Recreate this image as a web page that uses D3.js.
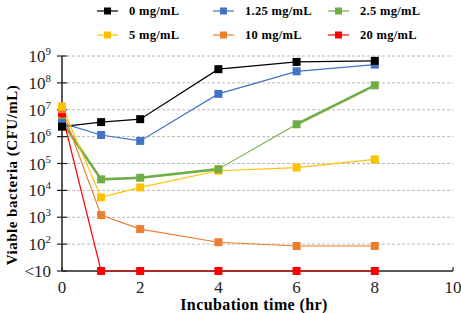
<!DOCTYPE html>
<html>
<head>
<meta charset="utf-8">
<script src="https://cdn.jsdelivr.net/npm/d3@7"></script>
<style>
  body { margin: 0; background: #fff; }
</style>
</head>
<body>
<div id="chart"></div>
<script>
// Data: log10 of viable bacteria (CFU/mL); 1 means "<10"
const times = [0, 1, 2, 4, 6, 8];
const doses = ['0 mg/mL', '1.25 mg/mL', '2.5 mg/mL', '5 mg/mL', '10 mg/mL', '20 mg/mL'];
const log_0    = [6.37, 6.54, 6.65, 8.51, 8.78, 8.82];
const log_125  = [6.50, 6.06, 5.84, 7.59, 8.43, 8.68];
const log_25   = [6.55, 4.41, 4.47, 4.79, 6.46, 7.91];
const log_5    = [7.12, 3.74, 4.11, 4.73, 4.85, 5.15];
const log_10   = [7.02, 3.08, 2.56, 2.07, 1.93, 1.93];
const log_20   = [6.86, 1, 1, 1, 1, 1];
const yTicks = [1, 2, 3, 4, 5, 6, 7, 8, 9];
const xTicks = [0, 2, 4, 6, 8, 10];

const colors = ['#000000', '#4472c4', '#70ad47', '#ffc000', '#ed7d31', '#ff0000'];
const seriesValues = [log_0, log_125, log_25, log_5, log_10, log_20];

const FONT = "'Liberation Serif', 'Times New Roman', Tinos, serif";
const width = 461, height = 313;
const margin = { top: 56, right: 8, bottom: 42, left: 62 };

const svg = d3.select('#chart').append('svg')
  .attr('width', width)
  .attr('height', height)
  .attr('viewBox', [0, 0, width, height])
  .style('display', 'block')
  .attr('font-family', FONT);

const x = d3.scaleLinear().domain([0, 10]).range([margin.left, width - margin.right]);
const y = d3.scaleLinear().domain([1, 9]).range([height - margin.bottom, margin.top]);

// ━━━ grid ━━━
svg.append('g')
  .selectAll('line')
  .data(yTicks.filter(d => d > 1))
  .join('line')
  .attr('x1', x(0)).attr('x2', x(10))
  .attr('y1', d => y(d)).attr('y2', d => y(d))
  .attr('stroke', '#a6a6a6')
  .attr('stroke-width', 0.8)
  .attr('stroke-dasharray', '3,2');

// ━━━ axes ━━━
const yAxis = svg.append('g').attr('transform', `translate(${x(0)},0)`);
yAxis.append('line')
  .attr('y1', y(1)).attr('y2', y(9))
  .attr('stroke', '#222').attr('stroke-width', 1.5);
yAxis.selectAll('line.tk')
  .data(yTicks)
  .join('line')
  .attr('class', 'tk')
  .attr('x1', -5).attr('x2', 5)
  .attr('y1', d => y(d)).attr('y2', d => y(d))
  .attr('stroke', '#222').attr('stroke-width', 1.2);

const yLab = yAxis.selectAll('text')
  .data(yTicks)
  .join('text')
  .attr('x', -11)
  .attr('y', d => y(d) + 6)
  .attr('text-anchor', 'end')
  .attr('font-family', FONT)
  .attr('font-size', 17)
  .attr('fill', '#222');
yLab.filter(d => d === 1).text('<10');
yLab.filter(d => d > 1).each(function(d) {
  const t = d3.select(this);
  t.append('tspan').text('10');
  t.append('tspan').attr('font-size', 11).attr('dy', -7).text(d);
});

const xAxis = svg.append('g').attr('transform', `translate(0,${y(1)})`);
xAxis.append('line')
  .attr('x1', x(0)).attr('x2', x(10))
  .attr('stroke', '#222').attr('stroke-width', 1.5);
xAxis.selectAll('line.tk')
  .data(xTicks)
  .join('line')
  .attr('class', 'tk')
  .attr('x1', d => x(d)).attr('x2', d => x(d))
  .attr('y1', -4).attr('y2', 0)
  .attr('stroke', '#222').attr('stroke-width', 1.2);
xAxis.selectAll('text')
  .data(xTicks)
  .join('text')
  .attr('x', d => x(d))
  .attr('y', 22)
  .attr('text-anchor', 'middle')
  .attr('font-family', FONT)
  .attr('font-size', 17)
  .attr('fill', '#222')
  .text(d => d);

svg.append('text')
  .attr('x', 254).attr('y', 310)
  .attr('text-anchor', 'middle')
  .attr('font-family', FONT)
  .attr('font-size', 16).attr('font-weight', 'bold')
  .attr('letter-spacing', 0.4)
  .text('Incubation time (hr)');

svg.append('text')
  .attr('transform', `translate(17,175) rotate(-90)`)
  .attr('text-anchor', 'middle')
  .attr('font-family', FONT)
  .attr('font-size', 15).attr('font-weight', 'bold')
  .attr('letter-spacing', 0.5)
  .text('Viable bacteria  (CFU/mL)');

// ━━━ series ━━━
const line = d3.line().x((d, i) => x(times[i])).y(d => y(d));
// green looks heavier on some segments in the original
const greenWidths = [2.6, 2.6, 2.6, 1.1, 2.6];

const plot = svg.append('g');
seriesValues.forEach((vals, s) => {
  const g = plot.append('g').attr('data-series', doses[s]);
  if (s === 2) {
    g.selectAll('line')
      .data(vals.slice(1))
      .join('line')
      .attr('x1', (d, i) => x(times[i])).attr('y1', (d, i) => y(vals[i]))
      .attr('x2', (d, i) => x(times[i + 1])).attr('y2', d => y(d))
      .attr('stroke', colors[s])
      .attr('stroke-width', (d, i) => greenWidths[i]);
  } else {
    g.append('path')
      .attr('d', line(vals))
      .attr('fill', 'none')
      .attr('stroke', colors[s])
      .attr('stroke-width', 1.2);
  }
});
// markers drawn after all lines
const drawOrder = [5, 4, 3, 2, 1, 0];
drawOrder.forEach(s => {
  plot.append('g')
    .selectAll('rect')
    .data(seriesValues[s])
    .join('rect')
    .attr('x', (d, i) => x(times[i]) - 4)
    .attr('y', d => y(d) - 4)
    .attr('width', 8).attr('height', 8)
    .attr('fill', colors[s]);
});

// ━━━ legend ━━━
const legend = svg.append('g');
const colX = [97, 213, 328];
const rowY = [11, 35];
doses.forEach((name, i) => {
  const cx = colX[i % 3], cy = rowY[Math.floor(i / 3)];
  const item = legend.append('g').attr('transform', `translate(${cx},${cy})`);
  item.append('line')
    .attr('x1', 0).attr('x2', 21)
    .attr('stroke', colors[i]).attr('stroke-width', 1.2);
  item.append('rect')
    .attr('x', 7).attr('y', -3.5).attr('width', 7).attr('height', 7)
    .attr('fill', colors[i]);
  item.append('text')
    .attr('x', 32).attr('y', 4)
    .attr('font-family', FONT)
    .attr('font-size', 12.5).attr('font-weight', 'bold')
    .attr('letter-spacing', 0.3)
    .text(name);
});
</script>
</body>
</html>
